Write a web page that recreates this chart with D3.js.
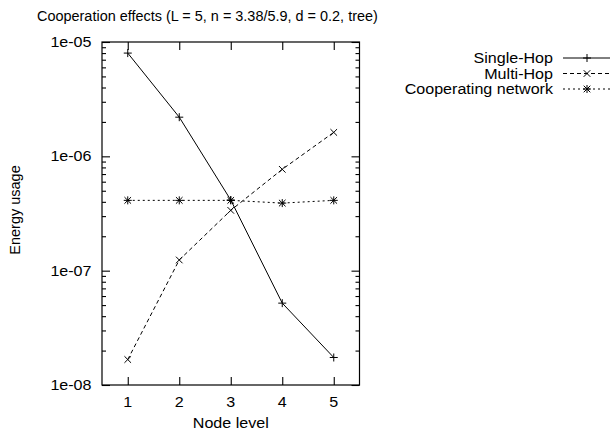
<!DOCTYPE html>
<html><head><meta charset="utf-8">
<script src="https://cdn.jsdelivr.net/npm/d3@7"></script>
<style>body{margin:0;background:#fff}svg{display:block}text{font-family:"Liberation Sans",Arial,sans-serif;font-size:14.5px;fill:#000}</style>
</head><body><svg id="c" width="611" height="434"></svg>
<script>
const levels = [1, 2, 3, 4, 5];
const singleHop = [8.0e-6, 2.2e-6, 4.15e-7, 5.2e-8, 1.74e-8];
const multiHop = [1.67e-8, 1.24e-7, 3.37e-7, 7.7e-7, 1.62e-6];
const cooperating = [4.12e-7, 4.12e-7, 4.12e-7, 3.9e-7, 4.12e-7];
const xTicks = [1, 2, 3, 4, 5];
const yTicks = [1e-8, 1e-7, 1e-6, 1e-5];
const yTickLabels = ["1e-08", "1e-07", "1e-06", "1e-05"];
const seriesNames = ["Single-Hop", "Multi-Hop", "Cooperating network"];
const titleText = "Cooperation effects (L = 5, n = 3.38/5.9, d = 0.2, tree)";

const svg = d3.select("#c");
const L = 102, R = 359.5, T = 42, B = 385;
const SX = 1.11;
const x = d3.scaleLinear().domain([0.5, 5.5]).range([L, R]);
const y = d3.scaleLog().domain([1e-8, 1e-5]).range([B, T]);

const minor = [];
for (let e = -8; e < -5; e++) for (let m = 2; m <= 9; m++) minor.push(m * Math.pow(10, e));

function addText(g, str, px, py, anchor, sx) {
  return g.append("text").attr("text-anchor", anchor).attr("x", 0).attr("y", 0).text(str)
    .attr("transform", `translate(${px},${py}) scale(${sx},1)`);
}

svg.append("rect").attr("x", L).attr("y", T).attr("width", R - L).attr("height", B - T)
  .attr("fill", "none").attr("stroke", "#000").attr("stroke-width", 1.2);

function styleAxis(g) {
  g.select(".domain").remove();
  g.selectAll(".tick line").attr("stroke", "#000").attr("stroke-width", 1.1);
  g.selectAll("text").remove();
}
const yl = svg.append("g").attr("transform", `translate(${L},0)`)
  .call(d3.axisLeft(y).tickValues(yTicks).tickSize(-8).tickFormat(""));
styleAxis(yl);
const yr = svg.append("g").attr("transform", `translate(${R},0)`)
  .call(d3.axisRight(y).tickValues(yTicks).tickSize(-8).tickFormat(""));
styleAxis(yr);
const yml = svg.append("g").attr("transform", `translate(${L},0)`)
  .call(d3.axisLeft(y).tickValues(minor).tickSize(-4).tickFormat(""));
styleAxis(yml);
const ymr = svg.append("g").attr("transform", `translate(${R},0)`)
  .call(d3.axisRight(y).tickValues(minor).tickSize(-4).tickFormat(""));
styleAxis(ymr);
const xb = svg.append("g").attr("transform", `translate(0,${B})`)
  .call(d3.axisBottom(x).tickValues(xTicks).tickSize(-8).tickFormat(""));
styleAxis(xb);
const xt = svg.append("g").attr("transform", `translate(0,${T})`)
  .call(d3.axisTop(x).tickValues(xTicks).tickSize(-8).tickFormat(""));
styleAxis(xt);

const lab = svg.append("g");
yTicks.forEach((v, i) => addText(lab, yTickLabels[i], 91.5, y(v) + 5, "end", SX));
xTicks.forEach(v => addText(lab, String(v), x(v), 406.5, "middle", SX));

addText(lab, "Node level", (L + R) / 2, 427.5, "middle", SX);
lab.append("text").attr("text-anchor", "middle")
  .attr("transform", `translate(20,210) rotate(-90)`).text("Energy usage");

const tt = lab.append("text").attr("text-anchor", "start").text(titleText);
const tw = tt.node().getComputedTextLength();
tt.attr("transform", `translate(37,21) scale(${341 / tw},1)`);

const styles = [
  {data: singleHop, dash: null, mark: "M-4,0H4M0,-4V4"},
  {data: multiHop, dash: "4,3", mark: "M-3.3,-3.3L3.3,3.3M-3.3,3.3L3.3,-3.3"},
  {data: cooperating, dash: "2,3", mark: "M-4,0H4M0,-4V4M-3.3,-3.3L3.3,3.3M-3.3,3.3L3.3,-3.3"}
];
const line = d3.line().x(d => x(d[0])).y(d => y(d[1]));
styles.forEach(s => {
  const pts = levels.map((l, i) => [l, s.data[i]]);
  svg.append("path").datum(pts).attr("d", line).attr("fill", "none")
    .attr("stroke", "#000").attr("stroke-width", 1).attr("stroke-dasharray", s.dash);
  svg.append("g").selectAll("path").data(pts).join("path")
    .attr("transform", d => `translate(${x(d[0])},${y(d[1])})`)
    .attr("d", s.mark).attr("fill", "none").attr("stroke", "#000").attr("stroke-width", 1);
});

const lg = svg.append("g");
const rows = [58, 73.5, 89];
styles.forEach((s, i) => {
  addText(lg, seriesNames[i], 553, rows[i] + 5, "end", SX);
  lg.append("line").attr("x1", 563).attr("x2", 610).attr("y1", rows[i]).attr("y2", rows[i])
    .attr("stroke", "#000").attr("stroke-width", 1).attr("stroke-dasharray", s.dash);
  lg.append("path").attr("transform", `translate(587,${rows[i]})`).attr("d", s.mark)
    .attr("fill", "none").attr("stroke", "#000").attr("stroke-width", 1);
});
</script></body></html>
